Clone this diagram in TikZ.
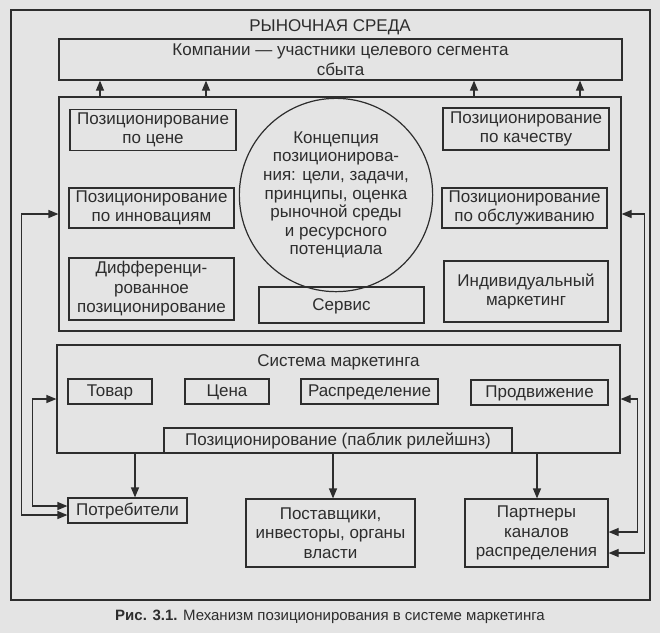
\documentclass[tikz,border=0pt]{standalone}
\usepackage{fontspec}
\setmainfont{Liberation Sans}
\usetikzlibrary{positioning, arrows.meta, calc}
\definecolor{ink}{RGB}{45,45,45}
\definecolor{paper}{RGB}{228,228,228}
\tikzset{
  block/.style={draw=ink, line width=1.2pt, inner sep=0pt, align=center, text=ink, font=\fontsize{17}{19.5}\selectfont},
  box/.style 2 args={block, minimum width=#1pt, minimum height=#2pt},
  line1/.style={text height=12pt, text depth=2pt},
  concept/.style={block, circle, minimum size=176pt, font=\fontsize{17}{18.6}\selectfont},
  lbl/.style={text=ink, font=\fontsize{17}{19.5}\selectfont},
  arr/.style={-{Triangle[length=10pt,width=8pt]}, draw=ink, line width=1.2pt},
  barr/.style={{Triangle[length=10pt,width=8pt]}-{Triangle[length=10pt,width=8pt]}, draw=ink, line width=1.2pt}
}

\begin{document}
\begin{tikzpicture}[x=1pt, y=-1pt]
\fill[paper] (0,0) rectangle (660,633);
\useasboundingbox (0,0) rectangle (660,633);
% market environment
\node[box={639}{590}] (env) at (330.5,305) {};
\node[lbl] (envtitle) at (330,27) {РЫНОЧНАЯ СРЕДА};
\node[box={563}{41}] (seg) at (340.5,59.5) {Компании — участники целевого сегмента\\сбыта};
% positioning block
\node[box={562}{234}] (pos) at (340,214) {};
\node[concept] (concept) at (336,195) {Концепция\\позиционирова-\\ния: цели, задачи,\\принципы, оценка\\рыночной среды\\и ресурсного\\потенциала};
\node[box={166}{41}] (price) at (153,130) {Позиционирование\\по цене};
\node[box={166}{42}] (quality) at (526,129) {Позиционирование\\по качеству};
\node[box={165}{40}] (innov) at (151.5,208) {Позиционирование\\по инновациям};
\node[box={165}{40}] (servpos) at (524.5,208) {Позиционирование\\по обслуживанию};
\node[box={165}{62}] (diff) at (151.5,289) {Дифференци-\\рованное\\позиционирование};
\node[box={165}{36}, line1] (service) at (341.5,305) {Сервис};
\node[box={164}{61}] (indiv) at (526,291.5) {Индивидуальный\\маркетинг};
\foreach \x in {100,206,474,580}
  \draw[arr] (pos.north -| \x,0) -- (seg.south -| \x,0);
% marketing system
\node[box={563}{108}] (mksys) at (338.5,399) {};
\node[lbl] (mktitle) at (338.5,362) {Система маркетинга};
\node[box={84}{25}, line1] (goods) at (110,391.5) {Товар};
\node[box={84}{25}, line1] (cost) at (227,391.5) {Цена};
\node[box={137}{25}, line1] (distr) at (369.5,391.5) {Распределение};
\node[box={137}{25}, line1] (promo) at (539.5,392.5) {Продвижение};
\node[box={348}{25}, line1] (pr) at (338,440.5) {Позиционирование (паблик рилейшнз)};
% audiences
\node[box={119}{25}, line1] (consumers) at (127.5,510.5) {Потребители};
\node[box={169}{68}] (suppliers) at (330.5,533) {Поставщики,\\инвесторы, органы\\власти};
\node[box={143}{68}] (partners) at (536.5,533) {Партнеры\\каналов\\распределения};
\draw[arr] (pr.south -| 135,0) -- (consumers.north -| 135,0);
\draw[arr] (pr.south -| 333,0) -- (suppliers.north -| 333,0);
\draw[arr] (pr.south -| 537,0) -- (partners.north -| 537,0);
% feedback loops
\draw[barr] (mksys.west) -- ++(-24,0) |- ([yshift=4.5pt]consumers.west);
\draw[barr] (pos.west) -- ++(-37,0) |- ([yshift=-4.5pt]consumers.west);
\draw[barr] (mksys.east) -- ++(17,0) |- ([yshift=1pt]partners.east);
\draw[barr] (pos.east) -- ++(23,0) |- ([yshift=-20pt]partners.east);
\node[text=ink, font=\fontsize{15}{17}\selectfont] (caption) at (330,617) {\textbf{Рис. 3.1.} Механизм позиционирования в системе маркетинга};
\end{tikzpicture}
\end{document}
